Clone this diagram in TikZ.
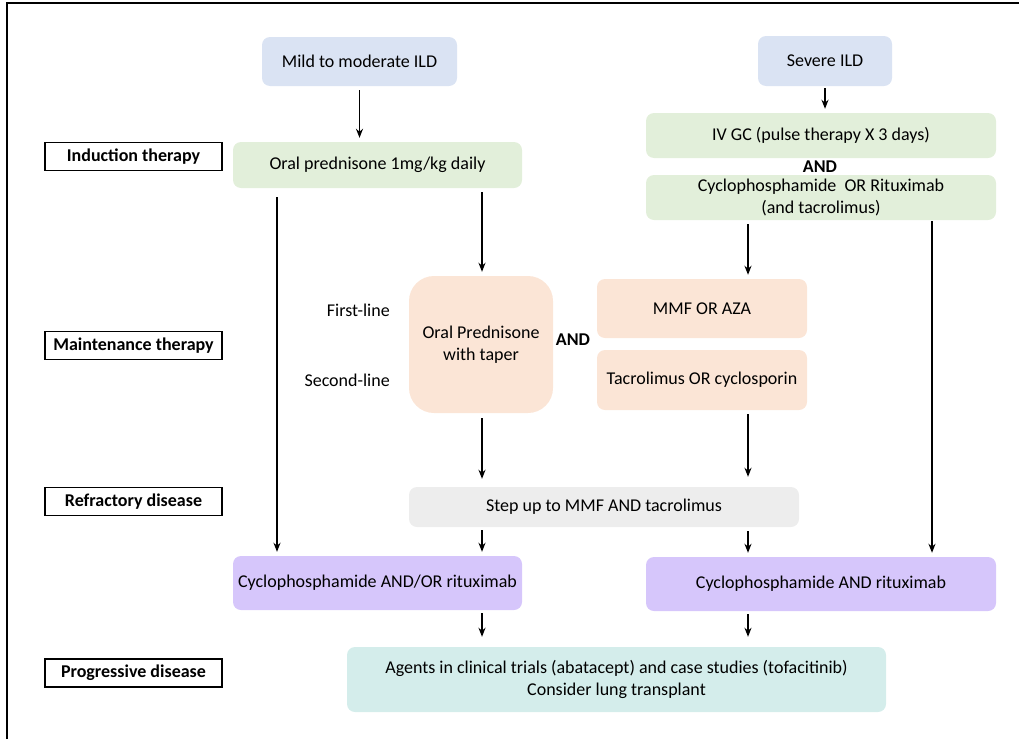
\documentclass[tikz,border=0pt]{standalone}
\usepackage{fontspec}
\setmainfont{Carlito}
\usepackage{xcolor}
\usetikzlibrary{arrows.meta}

\definecolor{ildblue}{HTML}{DAE3F3}
\definecolor{ildgreen}{HTML}{E2EFDA}
\definecolor{ildpeach}{HTML}{FBE5D6}
\definecolor{ildgrey}{HTML}{EDEDED}
\definecolor{ildpurple}{HTML}{D6C6FB}
\definecolor{ildteal}{HTML}{D4EDEB}

\tikzset{
  box/.style={rounded corners=8pt, inner sep=0pt, align=center, font=\fontsize{18}{22}\selectfont},
  stage/.style={draw=black, line width=1.8pt, inner sep=0pt, minimum width=177pt, minimum height=28pt, font=\bfseries\fontsize{18}{22}\selectfont},
  plain/.style={inner sep=0pt, font=\fontsize{18}{22}\selectfont},
  arr/.style={-{Stealth[length=9pt,width=7pt]}, line width=1.8pt, shorten <=4pt, shorten >=4pt},
}

\begin{document}
\begin{tikzpicture}[x=1pt,y=-1pt]
    \useasboundingbox (0,0) rectangle (1019,739);
    \draw [line width=1.2pt] (7,739)--(7,3)--(1019,3);

    % stage labels
    \node[stage] (induct) at (133.5,156.5) {\raisebox{-1pt}{Induction therapy}};
    \node[stage] (maint) at (133.5,345.5) {\raisebox{-1pt}{Maintenance therapy}};
    \node[stage] (refract) at (133.5,501.5) {\raisebox{-1pt}{Refractory disease}};
    \node[stage] (progr) at (133.5,673) {\raisebox{-1pt}{Progressive disease}};

    % top row
    \node[box,fill=ildblue,minimum width=195pt,minimum height=49pt] (mild) at (359.5,61.5) {Mild to moderate ILD};
    \node[box,fill=ildblue,minimum width=134pt,minimum height=50pt] (severe) at (825,61) {Severe ILD};

    % induction
    \node[box,fill=ildgreen,minimum width=289pt,minimum height=46pt] (pred) at (377.5,165) {Oral prednisone 1mg/kg daily};
    \node[box,fill=ildgreen,minimum width=350pt,minimum height=45pt] (ivgc) at (821,135.5) {IV GC (pulse therapy X 3 days)};
    \node[plain,font=\bfseries\fontsize{18}{22}\selectfont] (andtop) at (820,167) {AND};
    \node[box,fill=ildgreen,minimum width=350pt,minimum height=45pt] (cyc) at (821,197.5) {Cyclophosphamide\ \ OR Rituximab\\(and tacrolimus)};

    % maintenance
    \node[box,rounded corners=25pt,fill=ildpeach,minimum width=144pt,minimum height=137pt] (taper) at (481,344.5) {Oral Prednisone\\with taper};
    \node[plain,font=\bfseries\fontsize{18}{22}\selectfont] (andmid) at (573,340) {AND};
    \node[box,fill=ildpeach,minimum width=210pt,minimum height=59pt] (mmf) at (702,308.5) {MMF OR AZA};
    \node[box,fill=ildpeach,minimum width=210pt,minimum height=60pt] (tac) at (702,380) {Tacrolimus OR cyclosporin};
    \node[plain,anchor=east] (first) at (390,310) {First-line};
    \node[plain,anchor=east] (second) at (390,380) {Second-line};

    % refractory
    \node[box,fill=ildgrey,minimum width=390pt,minimum height=40pt] (step) at (604,507) {Step up to MMF AND tacrolimus};
    \node[box,fill=ildpurple,minimum width=289pt,minimum height=54pt] (cycao) at (377.5,583) {Cyclophosphamide AND/OR rituximab};
    \node[box,fill=ildpurple,minimum width=350pt,minimum height=54pt] (cycand) at (821,584) {Cyclophosphamide AND rituximab};

    % progressive
    \node[box,fill=ildteal,minimum width=539pt,minimum height=65pt] (agents) at (616.5,679.5) {Agents in clinical trials (abatacept) and case studies (tofacitinib)\\Consider lung transplant};

    % arrow columns
    \coordinate (lline) at (277,0);
    \coordinate (lcol) at (482,0);
    \coordinate (rcol) at (748,0);
    \coordinate (rline) at (932,0);

    \draw[arr] (mild.south)--(mild.south |- pred.north);
    \draw[arr,shorten <=2pt] (severe.south)--(severe.south |- ivgc.north);
    \draw[arr,shorten <=9pt] (pred.south -| lline)--(cycao.north -| lline);
    \draw[arr] (pred.south -| lcol)--(taper.north -| lcol);
    \draw[arr] (cyc.south -| rcol)--(mmf.north -| rcol);
    \draw[arr,shorten <=1pt] (cyc.south -| rline)--(cycand.north -| rline);
    \draw[arr,shorten <=5pt,shorten >=8pt] (taper.south -| lcol)--(step.north -| lcol);
    \draw[arr,shorten >=10pt] (tac.south -| rcol)--(step.north -| rcol);
    \draw[arr,shorten <=3pt] (step.south -| lcol)--(cycao.north -| lcol);
    \draw[arr] (step.south -| rcol)--(cycand.north -| rcol);
    \draw[arr,shorten <=3pt,shorten >=10pt] (cycao.south -| lcol)--(agents.north -| lcol);
    \draw[arr,shorten <=3pt,shorten >=10pt] (cycand.south -| rcol)--(agents.north -| rcol);

\end{tikzpicture}
\end{document}
